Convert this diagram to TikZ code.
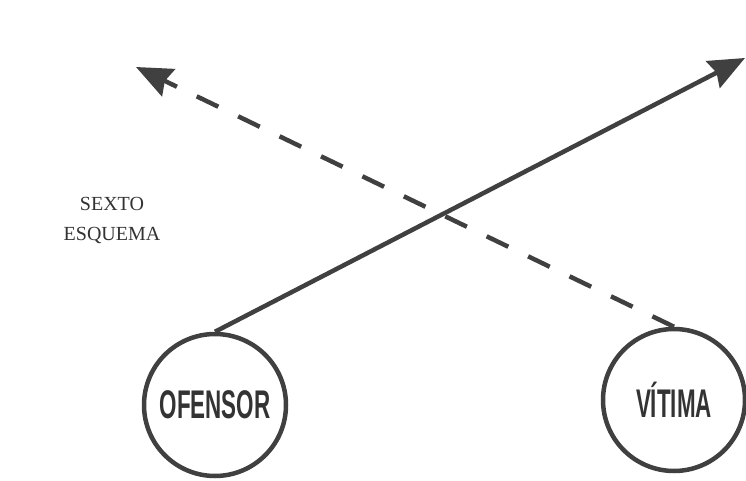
\documentclass[tikz,border=0pt]{standalone}
\usepackage{fontspec}
\setmainfont{Liberation Serif}
\newfontfamily\narrowbold[FakeStretch=0.56]{Liberation Sans}
\usetikzlibrary{arrows.meta}

\begin{document}
\begin{tikzpicture}[
    x=1pt,y=-1pt,
    party/.style={circle,draw=black!75,line width=4.5pt,minimum size=142pt,inner sep=0pt,
                  font=\narrowbold\bfseries\fontsize{40}{42}\selectfont,text=black!80},
    arrow/.style={-{Stealth[length=36pt,width=30pt,inset=4pt]},line width=4.5pt,draw=black!75}
  ]
    \useasboundingbox (0,0) rectangle (746,481);
    \node[party] (ofensor) at (215,405) {OFENSOR};
    \node[party] (vitima) at (674,400) {VÍTIMA};
    \coordinate (solidtip) at (745,58);
    \coordinate (dashtip) at (136,67);
    \draw[arrow] (ofensor.north) -- (solidtip);
    \draw[arrow,dash pattern=on 24pt off 22pt] (vitima.north) -- (dashtip);
    \node[align=center,font=\fontsize{20}{30}\selectfont,text=black!80] (titulo) at (112,220) {SEXTO\\ESQUEMA};
\end{tikzpicture}
\end{document}
